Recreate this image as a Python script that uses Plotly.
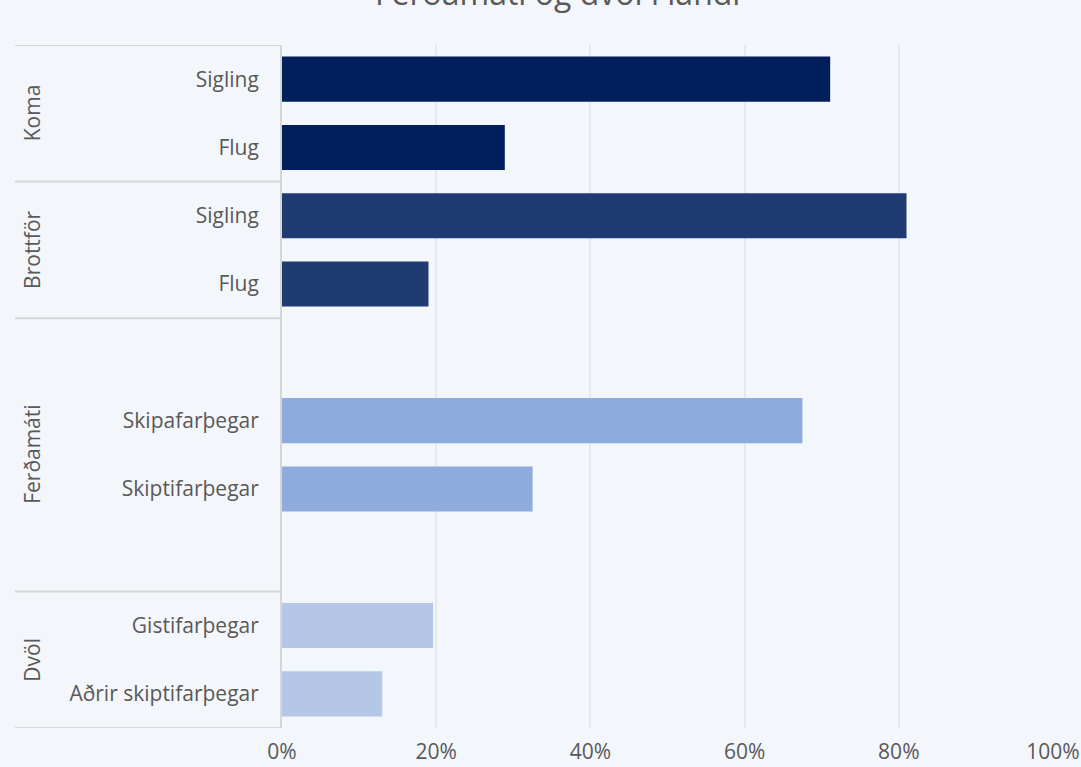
import plotly.graph_objects as go

# ---- data ----
title = "Ferðamáti og dvöl í landi"
groups = ["Koma", "Brottför", "Ferðamáti", "Dvöl"]
group_labels = [
    ["Sigling", "Flug"],
    ["Sigling", "Flug"],
    ["", "Skipafarþegar", "Skiptifarþegar", ""],
    ["Gistifarþegar", "Aðrir skiptifarþegar"],
]
group_values = [
    [71.1, 28.9],
    [81.0, 19.0],
    [None, 67.5, 32.5, None],
    [19.6, 13.0],
]
group_colors = ["#001F5C", "#1F3B71", "#8FAADC", "#B4C7E7"]
x_ticks = [0, 20, 40, 60, 80, 100]
x_ticklabels = ["0%", "20%", "40%", "60%", "80%", "100%"]

# ---- layout constants ----
W, H = 1081, 767
ML, MR, MT, MB = 282, 28, 45, 39
plot_w = W - ML - MR
plot_h = H - MT - MB
label_col_left = 15  # px, left edge of the group column
text_color = "#595959"
line_color = "#D6D6D6"
bg = "#F3F6FA"
font_family = "Open Sans, Noto Sans, sans-serif"

fig = go.Figure()

tickvals, ticktext = [], []
boundaries = [-0.5]
pos = 0
group_centers = []
for g, labels, vals, col in zip(groups, group_labels, group_values, group_colors):
    ys = list(range(pos, pos + len(labels)))
    fig.add_trace(go.Bar(
        x=vals, y=ys, orientation="h", marker=dict(color=col, line=dict(width=0)),
        width=0.66, name=g, showlegend=False, hoverinfo="x+y",
    ))
    for y, lab in zip(ys, labels):
        if lab:
            tickvals.append(y)
            ticktext.append(lab)
    group_centers.append((pos - 0.5 + pos + len(labels) - 0.5) / 2)
    pos += len(labels)
    boundaries.append(pos - 0.5)

n_slots = pos
x0_paper = -(ML - label_col_left) / plot_w

shapes = []
for b in boundaries:
    shapes.append(dict(type="line", xref="paper", yref="y", x0=x0_paper, x1=0,
                       y0=b, y1=b, line=dict(color=line_color, width=2), layer="above"))

annotations = []
for g, c in zip(groups, group_centers):
    annotations.append(dict(text=g, xref="paper", yref="y", x=(32 - ML) / plot_w, y=c,
                            textangle=-90, showarrow=False, xanchor="center", yanchor="middle",
                            font=dict(family=font_family, size=21, color=text_color)))
annotations.append(dict(text=title, xref="paper", yref="paper",
                        x=(557 - ML) / plot_w, y=1 + (MT - 16) / plot_h,
                        xanchor="center", yanchor="bottom", showarrow=False,
                        font=dict(family=font_family, size=32, color=text_color)))

fig.update_layout(
    width=W, height=H,
    margin=dict(l=ML, r=MR, t=MT, b=MB, pad=0),
    paper_bgcolor=bg, plot_bgcolor="rgba(0,0,0,0)",
    shapes=shapes, annotations=annotations,
    font=dict(family=font_family, color=text_color),
)
fig.update_xaxes(
    range=[0, 100], tickvals=x_ticks, ticktext=x_ticklabels,
    showgrid=True, gridcolor="#E6E8EC", gridwidth=1.5, zeroline=False,
    showline=False, ticks="", ticklabelstandoff=9, automargin=False,
    tickfont=dict(family=font_family, size=21, color=text_color), fixedrange=True,
)
fig.update_yaxes(
    range=[n_slots - 0.5, -0.5], tickvals=tickvals, ticktext=ticktext,
    showgrid=False, zeroline=False, showline=True, linecolor=line_color, linewidth=2,
    ticks="", ticklabelstandoff=17, automargin=False,
    tickfont=dict(family=font_family, size=21, color=text_color), fixedrange=True,
)

fig.write_html(
    "out.html",
    config={"displayModeBar": False},
    post_script="document.body.style.margin='0px';document.body.style.background='%s';" % bg,
)
